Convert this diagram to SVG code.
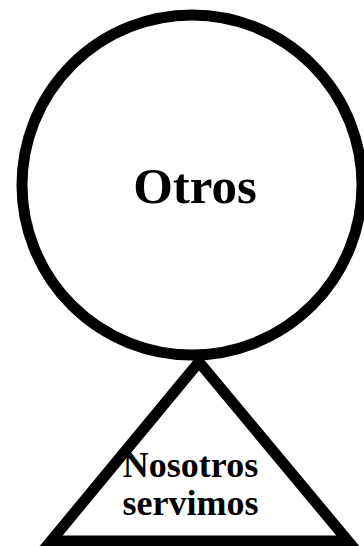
<svg xmlns="http://www.w3.org/2000/svg" width="364" height="546" viewBox="0 0 364 546">
<style>
.shape{fill:#fff;stroke:#000;stroke-width:11;stroke-linejoin:miter}
.t{font-family:"Liberation Serif","Times New Roman",serif;font-weight:bold;fill:#000;text-anchor:middle}
</style>
<rect width="364" height="546" fill="#fff"/>
<g id="connectors"></g>
<g id="otros">
<circle class="shape" cx="192" cy="185" r="170"/>
<text class="t" x="195" y="203" font-size="51">Otros</text>
</g>
<g id="nosotros">
<polygon class="shape" points="199,362 51,541 348,541"/>
<text class="t" x="190.5" y="477" font-size="36">Nosotros</text>
<text class="t" x="190.5" y="515" font-size="36">servimos</text>
</g>
</svg>
